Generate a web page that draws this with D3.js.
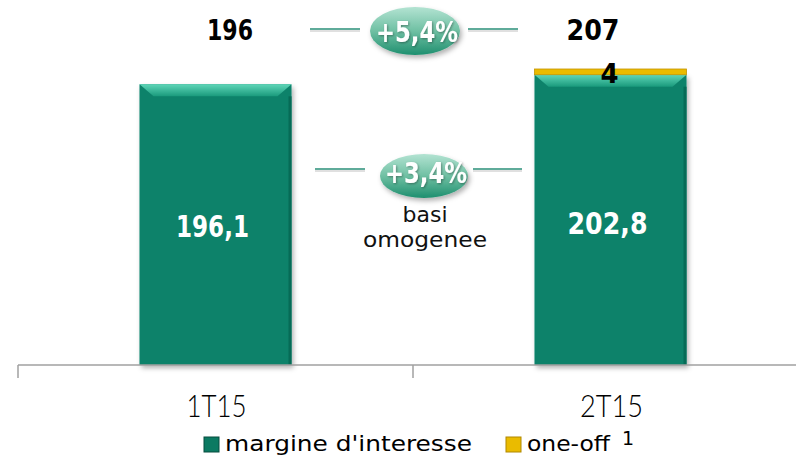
<!DOCTYPE html>
<html>
<head>
<meta charset="utf-8">
<script src="https://cdn.jsdelivr.net/npm/d3@7"></script>
<style>
  body { margin: 0; background: #fff; }
  svg { display: block; font-family: "DejaVu Sans", "Lato", sans-serif; }
</style>
</head>
<body>
<div id="chart"></div>
<script>
var width = 796,
    height = 456

// data
var categories = ["1T15", "2T15"];
var margine = [196.1, 202.8];
var oneOff = [0, 4];
var totals = ["196", "207"];
var barLabels = ["196,1", "202,8"];
var growth = ["+5,4%", "+3,4%"];
var legendLabels = ["margine d'interesse", "one-off"];

var svg = d3.select("#chart").append("svg")
    .attr("width", width)
    .attr("height", height);

var defs = svg.append("defs");

var shadow = defs.append("filter").attr("id", "shadow")
    .attr("x", "-20%").attr("y", "-20%").attr("width", "140%").attr("height", "140%");
shadow.append("feDropShadow").attr("dx", 2).attr("dy", 3)
    .attr("stdDeviation", 2.5).attr("flood-color", "#000").attr("flood-opacity", 0.3);

var txtShadow = defs.append("filter").attr("id", "txtshadow");
txtShadow.append("feDropShadow").attr("dx", 1).attr("dy", 1)
    .attr("stdDeviation", 1).attr("flood-color", "#000").attr("flood-opacity", 0.35);

var ellGrad = defs.append("linearGradient").attr("id", "ellgrad")
    .attr("x1", 0).attr("y1", 0).attr("x2", 0).attr("y2", 1);
ellGrad.append("stop").attr("offset", "0%").attr("stop-color", "#b3e3d2");
ellGrad.append("stop").attr("offset", "50%").attr("stop-color", "#6fc0a3");
ellGrad.append("stop").attr("offset", "100%").attr("stop-color", "#1f8f6f");

var bevGrad = defs.append("linearGradient").attr("id", "bevgrad")
    .attr("x1", 0).attr("y1", 0).attr("x2", 0).attr("y2", 1);
bevGrad.append("stop").attr("offset", "0%").attr("stop-color", "#5fd6b8");
bevGrad.append("stop").attr("offset", "100%").attr("stop-color", "#1a9a7c");

var x = d3.scaleBand()
    .domain(categories)
    .range([18, 808]);

var y = d3.scaleLinear()
    .domain([0, 255])
    .range([365, 0]);

var barW = 152;
var labelW = [73, 80];
var labelBase = [237, 234];
var totalX = [230, 593];
var totalW = [46, 53];
var catW = [60, 63];

var g = svg.append("g");
categories.forEach(function(c, i) {
  var cx = x(c) + x.bandwidth() / 2;
  var x0 = cx - barW / 2;
  var top = y(margine[i]);
  g.append("rect")
      .attr("x", x0).attr("y", top)
      .attr("width", barW).attr("height", y(0) - top)
      .attr("fill", "#08826a")
      .attr("filter", "url(#shadow)");
  // bevel on top
  g.append("path")
      .attr("d", "M" + x0 + "," + top + "h" + barW + "l-14,12h" + (-(barW - 28)) + "z")
      .attr("fill", "url(#bevgrad)");
  g.append("rect")
      .attr("x", x0 + barW - 3).attr("y", top + 12)
      .attr("width", 3).attr("height", y(0) - top - 12)
      .attr("fill", "#066b56");

  if (oneOff[i] > 0) {
    var t2 = y(margine[i] + oneOff[i]);
    g.append("rect")
        .attr("x", x0).attr("y", t2)
        .attr("width", barW).attr("height", top - t2)
        .attr("fill", "#eabb00")
        .attr("stroke", "#c49400").attr("stroke-width", 0.8);
    g.append("text")
        .attr("x", cx - 1).attr("y", 83)
        .attr("text-anchor", "middle")
        .attr("font-size", 26).attr("font-weight", "bold")
        .attr("fill", "#000")
        .text(oneOff[i]);
  }

  g.append("text")
      .attr("x", cx - 3).attr("y", labelBase[i])
      .attr("text-anchor", "middle")
      .attr("font-size", 31).attr("font-weight", "bold")
      .attr("textLength", labelW[i]).attr("lengthAdjust", "spacingAndGlyphs")
      .attr("fill", "#fff")
      .text(barLabels[i]);

  svg.append("text")
      .attr("x", totalX[i]).attr("y", 40)
      .attr("text-anchor", "middle")
      .attr("font-size", 28).attr("font-weight", "bold")
      .attr("textLength", totalW[i]).attr("lengthAdjust", "spacingAndGlyphs")
      .attr("fill", "#000")
      .text(totals[i]);

  svg.append("text")
      .attr("x", cx + 1).attr("y", 417)
      .attr("text-anchor", "middle")
      .attr("font-family", "Lato, sans-serif")
      .attr("font-size", 32).attr("font-weight", 300)
      .attr("textLength", catW[i]).attr("lengthAdjust", "spacingAndGlyphs")
      .attr("fill", "#000")
      .text(c);
});

// axis
var axis = svg.append("g");
axis.append("line")
    .attr("x1", 18).attr("x2", width).attr("y1", 365).attr("y2", 365)
    .attr("stroke", "#a0a0a0").attr("stroke-width", 1.5);
[18, x(categories[1])].forEach(function(t) {
  axis.append("line")
      .attr("x1", t).attr("x2", t).attr("y1", 365).attr("y2", 378)
      .attr("stroke", "#a0a0a0").attr("stroke-width", 1.5);
});

// growth bubbles
var bubbles = [
  {cx: 415, cy: 31, rx: 45, ry: 24, ly: 29, base: 42, l1: [310, 360], l2: [468, 518]},
  {cx: 424, cy: 176, rx: 44, ry: 22, ly: 169, base: 183, l1: [315, 365], l2: [473, 522]}
];
bubbles.forEach(function(b, i) {
  var bg = svg.append("g");
  [b.l1, b.l2].forEach(function(l) {
    bg.append("line").attr("x1", l[0]).attr("x2", l[1])
        .attr("y1", b.ly + 2).attr("y2", b.ly + 2)
        .attr("stroke", "#000").attr("stroke-opacity", 0.12).attr("stroke-width", 2);
    bg.append("line").attr("x1", l[0]).attr("x2", l[1])
        .attr("y1", b.ly).attr("y2", b.ly)
        .attr("stroke", "#2a8f78").attr("stroke-width", 1.5);
  });
  bg.append("ellipse")
      .attr("cx", b.cx).attr("cy", b.cy).attr("rx", b.rx).attr("ry", b.ry)
      .attr("fill", "url(#ellgrad)")
      .attr("filter", "url(#shadow)");
  bg.append("text")
      .attr("x", b.cx + 2).attr("y", b.base)
      .attr("text-anchor", "middle")
      .attr("font-size", 28).attr("font-weight", "bold")
      .attr("textLength", 82).attr("lengthAdjust", "spacingAndGlyphs")
      .attr("fill", "#fff")
      .attr("filter", "url(#txtshadow)")
      .text(growth[i]);
});

svg.append("text")
    .attr("x", 425).attr("y", 222)
    .attr("text-anchor", "middle")
    .attr("font-size", 22).attr("fill", "#111")
    .attr("textLength", 45).attr("lengthAdjust", "spacingAndGlyphs")
    .text("basi");
svg.append("text")
    .attr("x", 425).attr("y", 247)
    .attr("text-anchor", "middle")
    .attr("font-size", 22).attr("fill", "#111")
    .attr("textLength", 124).attr("lengthAdjust", "spacingAndGlyphs")
    .text("omogenee");

// legend
var legend = svg.append("g");
var legX = [204, 506];
var legW = [247, 83];
var legCol = ["#0b7a62", "#eabb00"];
var legStroke = ["#064d3e", "#b08800"];
legendLabels.forEach(function(l, i) {
  legend.append("rect")
      .attr("x", legX[i]).attr("y", 437)
      .attr("width", 15).attr("height", 15)
      .attr("fill", legCol[i]).attr("stroke", legStroke[i]).attr("stroke-width", 1);
  legend.append("text")
      .attr("x", legX[i] + 21).attr("y", 451)
      .attr("font-size", 22).attr("fill", "#000")
      .attr("textLength", legW[i]).attr("lengthAdjust", "spacingAndGlyphs")
      .text(l);
});
legend.append("text")
    .attr("x", 622).attr("y", 445)
    .attr("font-size", 19).attr("fill", "#000")
    .text("1");
</script>
</body>
</html>
